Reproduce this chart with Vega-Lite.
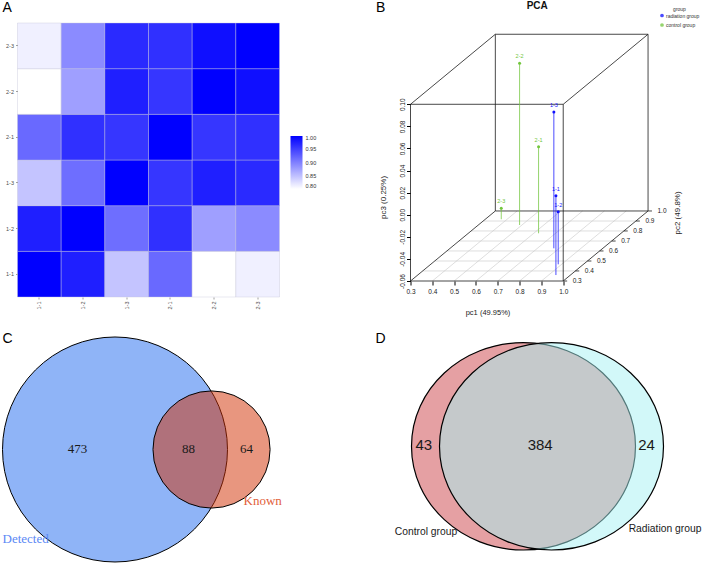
{
  "$schema": "https://vega.github.io/schema/vega-lite/v6.json",
  "background": "white",
  "padding": {"left": 0.5, "top": 0, "right": 0, "bottom": 0},
  "columns": 2,
  "bounds": "flush",
  "spacing": {"row": 40, "column": 131},
  "config": {
    "view": {"stroke": null},
    "font": "Liberation Sans",
    "axis": {"labelFont": "Liberation Sans", "titleFont": "Liberation Sans", "grid": false}
  },
  "concat": [
    {
      "width": 262,
      "height": 274,
      "title": {"text": "A", "anchor": "start", "frame": "group", "dx": -15, "offset": -3, "baseline": "alphabetic", "fontSize": 14, "fontWeight": "normal", "color": "black", "font": "Liberation Sans"},
      "data": {"values": [
        {"s1": "1-1", "s2": "1-1", "r": 1.0}, {"s1": "1-1", "s2": "1-2", "r": 0.976}, {"s1": "1-1", "s2": "1-3", "r": 0.846}, {"s1": "1-1", "s2": "2-1", "r": 0.918}, {"s1": "1-1", "s2": "2-2", "r": 0.80}, {"s1": "1-1", "s2": "2-3", "r": 0.812},
        {"s1": "1-2", "s2": "1-1", "r": 0.976}, {"s1": "1-2", "s2": "1-2", "r": 1.0}, {"s1": "1-2", "s2": "1-3", "r": 0.914}, {"s1": "1-2", "s2": "2-1", "r": 0.962}, {"s1": "1-2", "s2": "2-2", "r": 0.875}, {"s1": "1-2", "s2": "2-3", "r": 0.891},
        {"s1": "1-3", "s2": "1-1", "r": 0.846}, {"s1": "1-3", "s2": "1-2", "r": 0.914}, {"s1": "1-3", "s2": "1-3", "r": 1.0}, {"s1": "1-3", "s2": "2-1", "r": 0.958}, {"s1": "1-3", "s2": "2-2", "r": 0.976}, {"s1": "1-3", "s2": "2-3", "r": 0.967},
        {"s1": "2-1", "s2": "1-1", "r": 0.918}, {"s1": "2-1", "s2": "1-2", "r": 0.962}, {"s1": "2-1", "s2": "1-3", "r": 0.958}, {"s1": "2-1", "s2": "2-1", "r": 1.0}, {"s1": "2-1", "s2": "2-2", "r": 0.958}, {"s1": "2-1", "s2": "2-3", "r": 0.962},
        {"s1": "2-2", "s2": "1-1", "r": 0.80}, {"s1": "2-2", "s2": "1-2", "r": 0.875}, {"s1": "2-2", "s2": "1-3", "r": 0.976}, {"s1": "2-2", "s2": "2-1", "r": 0.958}, {"s1": "2-2", "s2": "2-2", "r": 1.0}, {"s1": "2-2", "s2": "2-3", "r": 0.988},
        {"s1": "2-3", "s2": "1-1", "r": 0.812}, {"s1": "2-3", "s2": "1-2", "r": 0.891}, {"s1": "2-3", "s2": "1-3", "r": 0.967}, {"s1": "2-3", "s2": "2-1", "r": 0.962}, {"s1": "2-3", "s2": "2-2", "r": 0.988}, {"s1": "2-3", "s2": "2-3", "r": 1.0}
      ]},
      "mark": {"type": "rect", "stroke": "#c4c4d8", "strokeWidth": 0.4},
      "encoding": {
        "x": {"field": "s2", "type": "nominal", "sort": ["1-1", "1-2", "1-3", "2-1", "2-2", "2-3"],
          "scale": {"paddingInner": 0, "paddingOuter": 0},
          "axis": {"title": null, "labelAngle": 270, "labelAlign": "right", "labelBaseline": "middle", "labelFontSize": 5.5, "labelColor": "#4d4d4d", "tickColor": "#a0a0a0", "tickSize": 2, "labelPadding": 2, "domain": false}},
        "y": {"field": "s1", "type": "nominal", "sort": ["2-3", "2-2", "2-1", "1-3", "1-2", "1-1"],
          "scale": {"paddingInner": 0, "paddingOuter": 0},
          "axis": {"title": null, "labelFontSize": 5.5, "labelColor": "#4d4d4d", "tickColor": "#a0a0a0", "tickSize": 2, "labelPadding": 2, "domain": false}},
        "color": {"field": "r", "type": "quantitative",
          "scale": {"domain": [0.8, 1.0], "range": ["#ffffff", "#0000ff"], "interpolate": "rgb"},
          "legend": {"orient": "none", "legendX": 273, "legendY": 113, "title": null, "direction": "vertical", "gradientLength": 53, "gradientThickness": 12, "gradientStrokeWidth": 0, "values": [0.8, 0.85, 0.9, 0.95, 1.0], "format": ".2f", "labelFontSize": 5.5, "labelColor": "#333333", "labelOffset": 3}}
      }
    },
    {
      "width": 240,
      "height": 258,
      "layer": [
        {
          "data": {"values": [
            {"x": 0.3555, "y": -0.0509, "x2": 1.0555, "y2": -0.0509},
            {"x": 0.4111, "y": -0.0419, "x2": 1.1111, "y2": -0.0419},
            {"x": 0.4666, "y": -0.0328, "x2": 1.1666, "y2": -0.0328},
            {"x": 0.5222, "y": -0.0238, "x2": 1.2222, "y2": -0.0238},
            {"x": 0.5777, "y": -0.0147, "x2": 1.2777, "y2": -0.0147},
            {"x": 0.6333, "y": -0.0057, "x2": 1.3333, "y2": -0.0057},
            {"x": 0.4, "y": -0.06, "x2": 0.7888, "y2": 0.0034},
            {"x": 0.5, "y": -0.06, "x2": 0.8888, "y2": 0.0034},
            {"x": 0.6, "y": -0.06, "x2": 0.9888, "y2": 0.0034},
            {"x": 0.7, "y": -0.06, "x2": 1.0888, "y2": 0.0034},
            {"x": 0.8, "y": -0.06, "x2": 1.1888, "y2": 0.0034},
            {"x": 0.9, "y": -0.06, "x2": 1.2888, "y2": 0.0034}
          ]},
          "mark": {"type": "rule", "color": "#c8c8c8", "strokeWidth": 0.6},
          "encoding": {
            "x": {"field": "x", "type": "quantitative",
              "scale": {"domain": [0.3, 1.4], "nice": false, "zero": false},
              "axis": {"title": "pc1 (49.95%)", "values": [0.3, 0.4, 0.5, 0.6, 0.7, 0.8, 0.9, 1.0], "tickCount": 20, "format": ".1f", "labelOverlap": false, "labelFlush": false, "domain": false, "tickSize": 4, "tickColor": "#000000", "labelFontSize": 6.5, "labelColor": "#222222", "labelPadding": 3, "titleFontSize": 7.5, "titleFontWeight": "normal", "titleColor": "#222222", "titleX": 77, "titleY": 31, "titleAlign": "center", "titleBaseline": "middle"}},
            "y": {"field": "y", "type": "quantitative",
              "scale": {"domain": [-0.06, 0.1736], "nice": false, "zero": false},
              "axis": {"title": "pc3 (0.25%)", "values": [-0.06, -0.04, -0.02, 0.0, 0.02, 0.04, 0.06, 0.08, 0.1], "tickCount": 20, "labelExpr": "replace(format(datum.value, '.2f'), '\u2212', '-')", "labelOverlap": false, "labelFlush": false, "domain": false, "tickSize": 4, "tickColor": "#000000", "labelAngle": 270, "labelAlign": "center", "labelBaseline": "bottom", "labelFontSize": 6.5, "labelColor": "#222222", "labelPadding": 1, "titleFontSize": 8, "titleFontWeight": "normal", "titleColor": "#222222", "titleAngle": 270, "titleX": -27, "titleY": 174, "titleAlign": "center", "titleBaseline": "middle"}},
            "x2": {"field": "x2"},
            "y2": {"field": "y2"}
          }
        },
        {
          "data": {"values": [
            {"x": 0.3, "y": -0.06, "x2": 1.0, "y2": -0.06},
            {"x": 0.3, "y": -0.06, "x2": 0.3, "y2": 0.1},
            {"x": 0.3, "y": 0.1, "x2": 1.0, "y2": 0.1},
            {"x": 1.0, "y": -0.06, "x2": 1.0, "y2": 0.1},
            {"x": 0.6888, "y": 0.0034, "x2": 1.3888, "y2": 0.0034},
            {"x": 0.6888, "y": 0.0034, "x2": 0.6888, "y2": 0.1634},
            {"x": 0.6888, "y": 0.1634, "x2": 1.3888, "y2": 0.1634},
            {"x": 1.3888, "y": 0.0034, "x2": 1.3888, "y2": 0.1634},
            {"x": 0.3, "y": 0.1, "x2": 0.6888, "y2": 0.1634},
            {"x": 1.0, "y": 0.1, "x2": 1.3888, "y2": 0.1634},
            {"x": 1.0, "y": -0.06, "x2": 1.3888, "y2": 0.0034},
            {"x": 0.3, "y": -0.06, "x2": 0.6888, "y2": 0.0034},
            {"x": 1.0, "y": -0.06, "x2": 1.018, "y2": -0.06},
            {"x": 1.0555, "y": -0.0509, "x2": 1.0735, "y2": -0.0509},
            {"x": 1.1111, "y": -0.0419, "x2": 1.1291, "y2": -0.0419},
            {"x": 1.1666, "y": -0.0328, "x2": 1.1846, "y2": -0.0328},
            {"x": 1.2222, "y": -0.0238, "x2": 1.2402, "y2": -0.0238},
            {"x": 1.2777, "y": -0.0147, "x2": 1.2957, "y2": -0.0147},
            {"x": 1.3333, "y": -0.0057, "x2": 1.3513, "y2": -0.0057},
            {"x": 1.3888, "y": 0.0034, "x2": 1.4068, "y2": 0.0034}
          ]},
          "mark": {"type": "rule", "color": "#1a1a1a", "strokeWidth": 0.8},
          "encoding": {
            "x": {"field": "x", "type": "quantitative"},
            "y": {"field": "y", "type": "quantitative"},
            "x2": {"field": "x2"},
            "y2": {"field": "y2"}
          }
        },
        {
          "data": {"name": "pca"},
          "mark": {"type": "rule", "strokeWidth": 1, "opacity": 0.75},
          "encoding": {
            "x": {"field": "x", "type": "quantitative"},
            "y": {"field": "y", "type": "quantitative"},
            "y2": {"field": "floor"},
            "color": {"field": "group", "type": "nominal"}
          }
        },
        {
          "data": {"name": "pca"},
          "mark": {"type": "point", "filled": true, "size": 9, "opacity": 1},
          "encoding": {
            "x": {"field": "x", "type": "quantitative"},
            "y": {"field": "y", "type": "quantitative"},
            "color": {"field": "group", "type": "nominal",
              "scale": {"domain": ["radiation group", "control group"], "range": ["#1010ff", "#72c63c"]},
              "legend": {"orient": "none", "legendX": 249, "legendY": -16, "title": "group", "titleFontSize": 5, "titleFontWeight": "normal", "titleColor": "#333333", "titleAnchor": "middle", "titlePadding": 1, "labelFontSize": 5, "labelColor": "#333333", "labelOffset": 1.5, "symbolSize": 5, "symbolType": "circle", "rowPadding": 0.5, "padding": 0}}
          }
        },
        {
          "data": {"name": "pca"},
          "mark": {"type": "text", "fontSize": 5.5, "dy": -7, "baseline": "middle", "align": "center"},
          "encoding": {
            "x": {"field": "x", "type": "quantitative"},
            "y": {"field": "y", "type": "quantitative"},
            "text": {"field": "sample"},
            "color": {"field": "group", "type": "nominal"}
          }
        },
        {
          "data": {"values": [
            {"x": 1.064, "y": -0.06, "lab": "0.3"},
            {"x": 1.1195, "y": -0.0509, "lab": "0.4"},
            {"x": 1.1751, "y": -0.0419, "lab": "0.5"},
            {"x": 1.2306, "y": -0.0328, "lab": "0.6"},
            {"x": 1.2862, "y": -0.0238, "lab": "0.7"},
            {"x": 1.3417, "y": -0.0147, "lab": "0.8"},
            {"x": 1.3973, "y": -0.0057, "lab": "0.9"},
            {"x": 1.4528, "y": 0.0034, "lab": "1.0"}
          ]},
          "mark": {"type": "text", "fontSize": 6.5, "color": "#222222", "align": "center", "baseline": "middle"},
          "encoding": {
            "x": {"field": "x", "type": "quantitative"},
            "y": {"field": "y", "type": "quantitative"},
            "text": {"field": "lab"}
          }
        },
        {
          "data": {"values": [{"label": "pc2 (49.8%)"}]},
          "mark": {"type": "text", "fontSize": 8, "angle": 270, "color": "#222222", "align": "center", "baseline": "middle"},
          "encoding": {"x": {"datum": 1.526, "type": "quantitative"}, "y": {"datum": 0.0016, "type": "quantitative"}, "text": {"field": "label"}}
        },
        {
          "data": {"values": [{"label": "PCA"}]},
          "mark": {"type": "text", "fontSize": 10, "fontWeight": "bold", "color": "#111111", "align": "center", "baseline": "middle"},
          "encoding": {"x": {"datum": 0.881, "type": "quantitative"}, "y": {"datum": 0.189, "type": "quantitative"}, "text": {"field": "label"}}
        },
        {
          "data": {"values": [{"label": "B"}]},
          "mark": {"type": "text", "fontSize": 14, "color": "#000000", "align": "center", "baseline": "middle"},
          "encoding": {"x": {"datum": 0.1628, "type": "quantitative"}, "y": {"datum": 0.1869, "type": "quantitative"}, "text": {"field": "label"}}
        }
      ]
    },
    {
      "width": 262,
      "height": 226,
      "layer": [
        {
          "data": {"values": [{"set": "Detected", "total": 561}]},
          "mark": {"type": "point", "shape": "circle", "filled": true, "fill": "#8fb4f7", "stroke": "#000000", "strokeWidth": 1, "opacity": 1},
          "encoding": {
            "x": {"datum": 0, "type": "quantitative", "scale": {"domain": [-0.8667, 1.4622], "nice": false, "zero": false}, "axis": null},
            "y": {"datum": 0, "type": "quantitative", "scale": {"domain": [-1.0089, 1.0], "nice": false, "zero": false}, "axis": null},
            "size": {"field": "total", "type": "quantitative", "scale": {"domain": [0, 561], "range": [0, 50625], "zero": true}, "legend": null}
          }
        },
        {
          "data": {"values": [{"set": "Known", "total": 152}]},
          "mark": {"type": "point", "shape": "circle", "filled": true, "fill": "#d12d00", "fillOpacity": 0.5, "stroke": "#000000", "strokeWidth": 1, "strokeOpacity": 1},
          "encoding": {
            "x": {"datum": 0.858, "type": "quantitative"},
            "y": {"datum": 0, "type": "quantitative"},
            "size": {"field": "total", "type": "quantitative", "legend": null}
          }
        },
        {
          "data": {"values": [{"count": 473}]},
          "mark": {"type": "text", "font": "Liberation Serif", "fontSize": 13, "color": "#1a1a1a", "align": "center", "baseline": "middle"},
          "encoding": {"x": {"datum": -0.333, "type": "quantitative"}, "y": {"datum": 0, "type": "quantitative"}, "text": {"field": "count"}}
        },
        {
          "data": {"values": [{"count": 88}]},
          "mark": {"type": "text", "font": "Liberation Serif", "fontSize": 13, "color": "#1a1a1a", "align": "center", "baseline": "middle"},
          "encoding": {"x": {"datum": 0.653, "type": "quantitative"}, "y": {"datum": 0, "type": "quantitative"}, "text": {"field": "count"}}
        },
        {
          "data": {"values": [{"count": 64}]},
          "mark": {"type": "text", "font": "Liberation Serif", "fontSize": 13, "color": "#1a1a1a", "align": "center", "baseline": "middle"},
          "encoding": {"x": {"datum": 1.169, "type": "quantitative"}, "y": {"datum": 0, "type": "quantitative"}, "text": {"field": "count"}}
        },
        {
          "data": {"values": [{"set": "Detected"}]},
          "mark": {"type": "text", "font": "Liberation Serif", "fontSize": 13, "color": "#5b88f5", "align": "left", "baseline": "middle"},
          "encoding": {"x": {"datum": -1.0, "type": "quantitative"}, "y": {"datum": -0.7956, "type": "quantitative"}, "text": {"field": "set"}}
        },
        {
          "data": {"values": [{"set": "Known"}]},
          "mark": {"type": "text", "font": "Liberation Serif", "fontSize": 13, "color": "#e2603a", "align": "left", "baseline": "middle"},
          "encoding": {"x": {"datum": 1.1422, "type": "quantitative"}, "y": {"datum": -0.455, "type": "quantitative"}, "text": {"field": "set"}}
        },
        {
          "data": {"values": [{"label": "C"}]},
          "mark": {"type": "text", "fontSize": 14, "color": "#000000", "align": "left", "baseline": "middle"},
          "encoding": {"x": {"datum": -1.0, "type": "quantitative"}, "y": {"datum": 0.985, "type": "quantitative"}, "text": {"field": "label"}}
        }
      ]
    },
    {
      "width": 240,
      "height": 226,
      "layer": [
        {
          "data": {"values": [{"set": "Control group", "total": 427}]},
          "mark": {"type": "point", "filled": true, "shape": "M1,0C1,0.5114,0.5523,0.926,0,0.926C-0.5523,0.926,-1,0.5114,-1,0C-1,-0.5114,-0.5523,-0.926,0,-0.926C0.5523,-0.926,1,-0.5114,1,0Z", "size": 50176, "fill": "#cb4147", "fillOpacity": 0.5, "stroke": "#000000", "strokeWidth": 1.2, "strokeOpacity": 1},
          "encoding": {
            "x": {"datum": 1.13, "type": "quantitative", "scale": {"domain": [0, 2.4], "nice": false, "zero": false}, "axis": null},
            "y": {"datum": 1.167, "type": "quantitative", "scale": {"domain": [0, 2.26], "nice": false, "zero": false}, "axis": null}
          }
        },
        {
          "data": {"values": [{"set": "Radiation group", "total": 408}]},
          "mark": {"type": "point", "filled": true, "shape": "M1,0C1,0.5114,0.5523,0.926,0,0.926C-0.5523,0.926,-1,0.5114,-1,0C-1,-0.5114,-0.5523,-0.926,0,-0.926C0.5523,-0.926,1,-0.5114,1,0Z", "size": 50176, "fill": "#a5f1f3", "fillOpacity": 0.5, "stroke": "#000000", "strokeWidth": 1.2, "strokeOpacity": 1},
          "encoding": {
            "x": {"datum": 1.41, "type": "quantitative"},
            "y": {"datum": 1.167, "type": "quantitative"}
          }
        },
        {
          "data": {"values": [{"count": 43}]},
          "mark": {"type": "text", "fontSize": 15, "color": "#1a1a1a", "align": "center", "baseline": "middle"},
          "encoding": {"x": {"datum": 0.133, "type": "quantitative"}, "y": {"datum": 1.183, "type": "quantitative"}, "text": {"field": "count"}}
        },
        {
          "data": {"values": [{"count": 384}]},
          "mark": {"type": "text", "fontSize": 15, "color": "#1a1a1a", "align": "center", "baseline": "middle"},
          "encoding": {"x": {"datum": 1.297, "type": "quantitative"}, "y": {"datum": 1.183, "type": "quantitative"}, "text": {"field": "count"}}
        },
        {
          "data": {"values": [{"count": 24}]},
          "mark": {"type": "text", "fontSize": 15, "color": "#1a1a1a", "align": "center", "baseline": "middle"},
          "encoding": {"x": {"datum": 2.36, "type": "quantitative"}, "y": {"datum": 1.183, "type": "quantitative"}, "text": {"field": "count"}}
        },
        {
          "data": {"values": [{"set": "Control group"}]},
          "mark": {"type": "text", "fontSize": 10.3, "color": "#1a1a1a", "align": "center", "baseline": "middle"},
          "encoding": {"x": {"datum": 0.155, "type": "quantitative"}, "y": {"datum": 0.31, "type": "quantitative"}, "text": {"field": "set"}}
        },
        {
          "data": {"values": [{"set": "Radiation group"}]},
          "mark": {"type": "text", "fontSize": 10.3, "color": "#1a1a1a", "align": "center", "baseline": "middle"},
          "encoding": {"x": {"datum": 2.545, "type": "quantitative"}, "y": {"datum": 0.34, "type": "quantitative"}, "text": {"field": "set"}}
        },
        {
          "data": {"values": [{"label": "D"}]},
          "mark": {"type": "text", "fontSize": 14, "color": "#000000", "align": "center", "baseline": "middle"},
          "encoding": {"x": {"datum": -0.3, "type": "quantitative"}, "y": {"datum": 2.24, "type": "quantitative"}, "text": {"field": "label"}}
        }
      ]
    }
  ],
  "datasets": {
    "pca": [
      {"sample": "2-2", "group": "control group", "x": 0.8, "y": 0.1371, "floor": -0.0093},
      {"sample": "2-1", "group": "control group", "x": 0.887, "y": 0.0616, "floor": -0.0168},
      {"sample": "2-3", "group": "control group", "x": 0.716, "y": 0.0058, "floor": -0.0041},
      {"sample": "1-3", "group": "radiation group", "x": 0.957, "y": 0.093, "floor": -0.0304},
      {"sample": "1-1", "group": "radiation group", "x": 0.9665, "y": 0.0172, "floor": -0.0546},
      {"sample": "1-2", "group": "radiation group", "x": 0.977, "y": 0.0027, "floor": -0.0449}
    ]
  }
}
